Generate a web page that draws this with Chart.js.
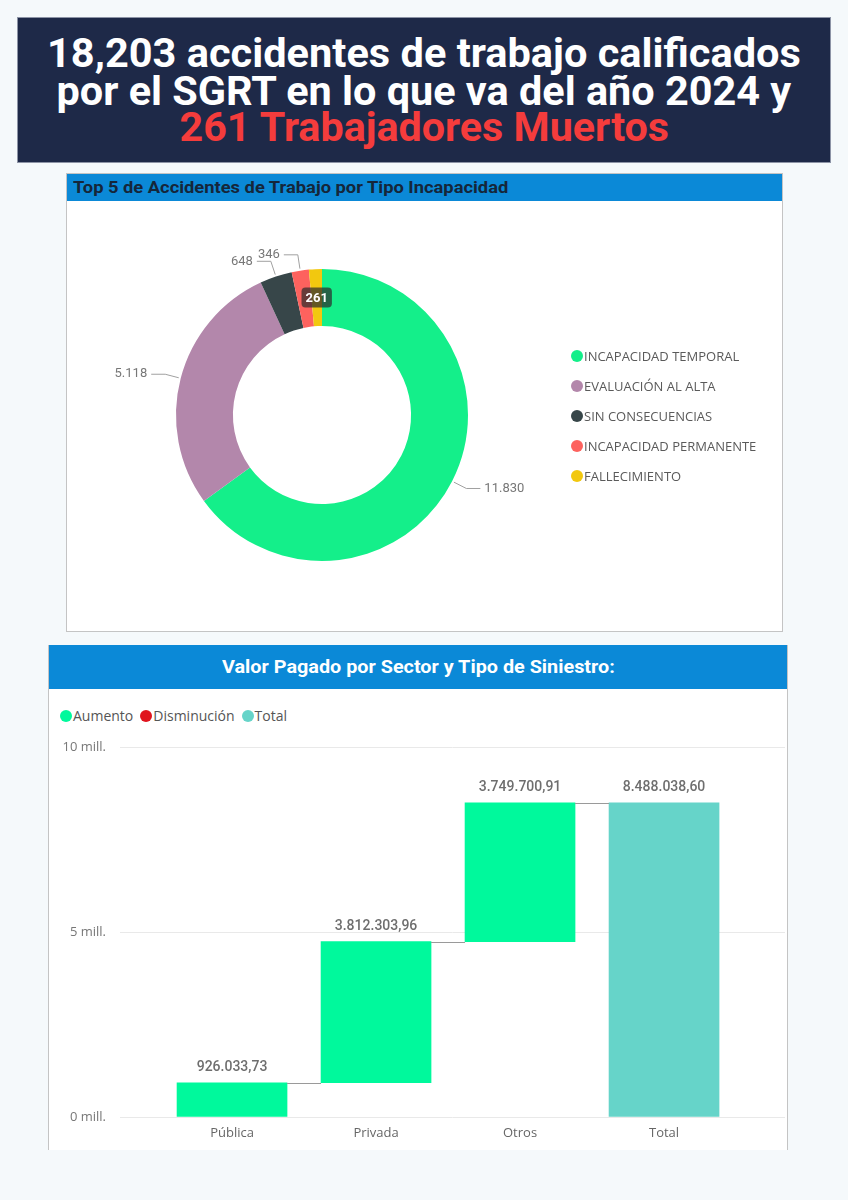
<!DOCTYPE html>
<html>
<head>
<meta charset="utf-8">
<script src="https://cdn.jsdelivr.net/npm/chart.js@4.4.0/dist/chart.umd.min.js"></script>
<style>
    body { margin: 0; width: 848px; height: 1200px; background: #f5f9fb; position: relative; overflow: hidden; font-family: "Open Sans", sans-serif; }
    #header { position: absolute; left: 17px; top: 17px; width: 812px; height: 144px; background: #1e2948; border: 1px solid #8d94a6; }
    .hl { position: absolute; left: 0; width: 100%; text-align: center; font-family: Roboto, sans-serif; font-weight: 700; font-size: 40px; line-height: 38px; color: #fff; white-space: nowrap; }
    .hl span { display: inline-block; }
    .red { color: #f43c3c; }

    #panel1 { position: absolute; left: 66px; top: 173px; width: 715px; height: 457px; background: #fff; border: 1px solid #c4c4c4; }
    #title1 { height: 27px; background: #0b89d7; color: #15263a; font-family: Roboto, sans-serif; font-weight: 700; font-size: 16px; line-height: 27px; padding-left: 6px; white-space: nowrap; }
    #title1 span { display: inline-block; transform-origin: left center; }
    #pie { position: absolute; left: 0; top: 27px; }
    #legend1 { position: absolute; left: 504px; top: 167px; }
    .lrow { height: 30px; display: flex; align-items: center; font-size: 13px; color: #5a5a5a; }
    .dot { width: 12px; height: 12px; border-radius: 50%; margin-right: 1px; flex: none; }

    #panel2 { position: absolute; left: 48px; top: 645px; width: 738px; height: 505px; background: #fff; border-left: 1px solid #c4c4c4; border-right: 1px solid #c4c4c4; }
    #title2 { height: 44px; background: #0b89d7; color: #fff; font-family: Roboto, sans-serif; font-weight: 700; font-size: 18px; line-height: 44px; text-align: center; white-space: nowrap; }
    #title2 span { display: inline-block; }
    #legend2 { position: absolute; left: 11px; top: 61px; display: flex; font-size: 14px; color: #555; }
    #legend2 .item { display: flex; align-items: center; margin-right: 7px; }
    #bars { position: absolute; left: 0; top: 45px; }
</style>
</head>
<body>

<div id="header">
    <div class="hl" style="top:17px"><span data-w="754">18,203 accidentes de trabajo calificados</span></div>
    <div class="hl" style="top:55px"><span data-w="735">por el SGRT en lo que va del año 2024 y</span></div>
    <div class="hl red" style="top:91px"><span data-w="490">261 Trabajadores Muertos</span></div>
</div>

<div id="panel1">
    <div id="title1"><span data-w="435">Top 5 de Accidentes de Trabajo por Tipo Incapacidad</span></div>
    <canvas id="pie" width="715" height="430"></canvas>
    <div id="legend1"></div>
</div>

<div id="panel2">
    <div id="title2"><span data-w="393">Valor Pagado por Sector y Tipo de Siniestro:</span></div>
    <div id="legend2"></div>
    <canvas id="bars" width="738" height="460"></canvas>
</div>

<script>
// Top 5 accidentes por tipo de incapacidad
const tipos = ['INCAPACIDAD TEMPORAL', 'EVALUACIÓN AL ALTA', 'SIN CONSECUENCIAS', 'INCAPACIDAD PERMANENTE', 'FALLECIMIENTO'];
const accidentes = [11830, 5118, 648, 346, 261];

// Valor pagado por sector (waterfall)
const sectores = ['Pública', 'Privada', 'Otros'];
const montos = [926033.73, 3812303.96, 3749700.91];
const totalLabel = 'Total';
const leyendaSiniestro = ['Aumento', 'Disminución', 'Total'];
const yTicks = [0, 5000000, 10000000];

const tipoColors = ['#14ef8a', '#b387ab', '#374649', '#fd625e', '#f2c80f'];
const aumentoColor = '#00f99c';
const disminucionColor = '#e0141e';
const totalColor = '#66d4c9';

// stretch titles to the reference widths
document.querySelectorAll('span[data-w]').forEach(s => {
    const k = s.dataset.w / s.offsetWidth;
    s.style.transform = 'scaleX(' + k + ')';
});

function fmtNum(v, dec) {
    const parts = v.toFixed(dec).split('.');
    parts[0] = parts[0].replace(/\B(?=(\d{3})+(?!\d))/g, '.');
    return dec ? parts[0] + ',' + parts[1] : parts[0];
}

// legends
const legend1 = document.getElementById('legend1');
tipos.forEach((t, i) => {
    legend1.innerHTML += '<div class="lrow"><span class="dot" style="background:' + tipoColors[i] + '"></span>' + t + '</div>';
});
const legend2 = document.getElementById('legend2');
[aumentoColor, disminucionColor, totalColor].forEach((c, i) => {
    legend2.innerHTML += '<div class="item"><span class="dot" style="background:' + c + '"></span>' + leyendaSiniestro[i] + '</div>';
});

/*---------- doughnut ----------*/
const sliceLabels = {
    id: 'sliceLabels',
    afterDatasetsDraw(chart) {
        const ctx = chart.ctx;
        const arcs = chart.getDatasetMeta(0).data;
        ctx.save();
        arcs.forEach((arc, i) => {
            const p = arc.getProps(['x', 'y', 'startAngle', 'endAngle', 'outerRadius', 'innerRadius'], true);
            const mid = (p.startAngle + p.endAngle) / 2;
            const cos = Math.cos(mid), sin = Math.sin(mid);
            const txt = fmtNum(accidentes[i], 0);
            if (i === accidentes.length - 1) {
                // smallest slice gets its label on the ring
                const r = (p.outerRadius + p.innerRadius) / 2;
                const px = p.x + cos * r, py = p.y + sin * r;
                ctx.font = 'bold 13px Roboto';
                const w = ctx.measureText(txt).width + 8;
                ctx.fillStyle = 'rgba(45,45,45,0.72)';
                ctx.beginPath();
                ctx.roundRect(px - w / 2, py - 10, w, 20, 4);
                ctx.fill();
                ctx.fillStyle = '#fff';
                ctx.textAlign = 'center';
                ctx.textBaseline = 'middle';
                ctx.fillText(txt, px, py + 1);
                return;
            }
            const x0 = p.x + cos * (p.outerRadius + 2), y0 = p.y + sin * (p.outerRadius + 2);
            const x1 = p.x + cos * (p.outerRadius + 16), y1 = p.y + sin * (p.outerRadius + 16);
            const dir = cos >= 0 ? 1 : -1;
            const x2 = x1 + dir * 14;
            ctx.strokeStyle = '#a0a0a0';
            ctx.lineWidth = 1;
            ctx.beginPath();
            ctx.moveTo(x0, y0);
            ctx.lineTo(x1, y1);
            ctx.lineTo(x2, y1);
            ctx.stroke();
            ctx.fillStyle = '#777';
            ctx.font = '13px Roboto';
            ctx.textAlign = dir > 0 ? 'left' : 'right';
            ctx.textBaseline = 'middle';
            ctx.fillText(txt, x2 + dir * 4, y1);
        });
        ctx.restore();
    }
};

new Chart(document.getElementById('pie'), {
    type: 'doughnut',
    data: {
        labels: tipos,
        datasets: [{
            data: accidentes,
            backgroundColor: tipoColors,
            borderWidth: 0
        }]
    },
    options: {
        responsive: false,
        animation: false,
        cutout: '61%',
        layout: { padding: { left: 109, right: 314, top: 68, bottom: 70 } },
        plugins: { legend: { display: false }, tooltip: { enabled: false } }
    },
    plugins: [sliceLabels]
});

/*---------- waterfall ----------*/
let acumulado = 0;
const barras = montos.map((v, i) => {
    const b = { x: i, y: [acumulado, acumulado + v] };
    acumulado += v;
    return b;
});
barras.push({ x: montos.length, y: [0, acumulado] });
const etiquetas = sectores.concat([totalLabel]);
const valoresEtiqueta = montos.concat([acumulado]);

const waterfallExtras = {
    id: 'waterfallExtras',
    afterDatasetsDraw(chart) {
        const ctx = chart.ctx;
        const bars = chart.getDatasetMeta(0).data;
        const yScale = chart.scales.y;
        ctx.save();
        // connectors
        ctx.strokeStyle = '#9a9a9a';
        ctx.lineWidth = 1;
        for (let i = 0; i < bars.length - 1; i++) {
            const yy = Math.round(yScale.getPixelForValue(barras[i].y[1])) + 0.5;
            ctx.beginPath();
            ctx.moveTo(bars[i].x + bars[i].width / 2, yy);
            ctx.lineTo(bars[i + 1].x - bars[i + 1].width / 2, yy);
            ctx.stroke();
        }
        // value labels
        ctx.fillStyle = '#6e6e6e';
        ctx.font = '500 14px Roboto';
        ctx.textAlign = 'center';
        ctx.textBaseline = 'middle';
        bars.forEach((b, i) => {
            ctx.fillText(fmtNum(valoresEtiqueta[i], 2), b.x, Math.min(b.y, b.base) - 15);
        });
        ctx.restore();
    }
};

new Chart(document.getElementById('bars'), {
    type: 'bar',
    data: {
        datasets: [{
            data: barras,
            backgroundColor: barras.map((b, i) => i === barras.length - 1 ? totalColor : aumentoColor),
            borderWidth: 0,
            barThickness: 110
        }]
    },
    options: {
        responsive: false,
        animation: false,
        layout: { padding: { top: 57, right: 2, left: 0, bottom: 0 } },
        plugins: { legend: { display: false }, tooltip: { enabled: false } },
        scales: {
            x: {
                type: 'linear',
                offset: false,
                min: -0.778,
                max: 3.84,
                afterBuildTicks: s => { s.ticks = etiquetas.map((e, i) => ({ value: i })); },
                afterFit: s => { s.height = 33; },
                grid: { display: false, drawTicks: false },
                border: { display: false },
                ticks: {
                    padding: 8,
                    color: '#666',
                    font: { family: 'Open Sans', size: 13 },
                    callback: v => etiquetas[v]
                }
            },
            y: {
                min: 0,
                max: 10000000,
                afterBuildTicks: s => { s.ticks = yTicks.map(v => ({ value: v })); },
                afterFit: s => { s.width = 71; },
                grid: { color: '#e9e9e9', drawTicks: false },
                border: { display: false },
                ticks: {
                    padding: 14,
                    color: '#777',
                    font: { family: 'Open Sans', size: 13 },
                    callback: v => (v / 1000000) + ' mill.'
                }
            }
        }
    },
    plugins: [waterfallExtras]
});
</script>
</body>
</html>
